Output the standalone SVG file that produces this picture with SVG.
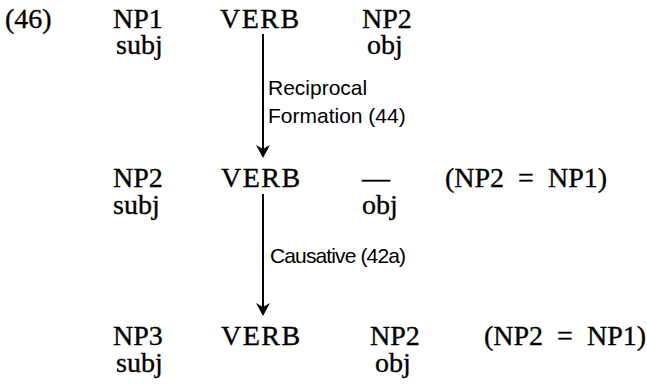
<svg xmlns="http://www.w3.org/2000/svg" width="647" height="385" viewBox="0 0 647 385">
<defs>
<style>
.m{font-family:"Liberation Serif","Times New Roman",serif;font-size:28px;fill:#000;stroke:#000;stroke-width:0.35}
.l{font-family:"Liberation Sans",Arial,sans-serif;font-size:21px;fill:#000}
.c{stroke:#000;stroke-width:2;fill:none}
.h{fill:#000;stroke:none}
.v{letter-spacing:1.5px}
</style>
</defs>
<rect width="647" height="385" fill="#fff"/>
<g id="label46"><text class="m" x="5" y="28">(46)</text></g>
<g id="row1">
<g id="r1-np1"><text class="m" x="113" y="28">NP1</text><text class="m" x="116" y="54">subj</text></g>
<g id="r1-verb"><text class="m v" x="220" y="28">VERB</text></g>
<g id="r1-np2"><text class="m" x="362" y="28">NP2</text><text class="m" x="367" y="54">obj</text></g>
</g>
<g id="row2">
<g id="r2-np2"><text class="m" x="113" y="187">NP2</text><text class="m" x="113" y="214">subj</text></g>
<g id="r2-verb"><text class="m v" x="221" y="187">VERB</text></g>
<g id="r2-gap"><text class="m" x="362" y="187">—</text><text class="m" x="362" y="214">obj</text></g>
<g id="r2-eq"><text class="m" x="445" y="187" xml:space="preserve">(NP2  =  NP1)</text></g>
</g>
<g id="row3">
<g id="r3-np3"><text class="m" x="113" y="345">NP3</text><text class="m" x="116" y="372">subj</text></g>
<g id="r3-verb"><text class="m v" x="221" y="345">VERB</text></g>
<g id="r3-np2"><text class="m" x="370" y="345">NP2</text><text class="m" x="375" y="372">obj</text></g>
<g id="r3-eq"><text class="m" x="484" y="345" xml:space="preserve">(NP2  =  NP1)</text></g>
</g>
<g id="connectors">
<line class="c" x1="263" y1="34" x2="263" y2="150"/>
<path class="h" d="M256,145 L263,149 L270,145 L263,158 Z"/>
<text class="l" x="268" y="95">Reciprocal</text>
<text class="l" x="268" y="123">Formation (44)</text>
<line class="c" x1="263" y1="194" x2="263" y2="308"/>
<path class="h" d="M256,303 L263,307 L270,303 L263,316 Z"/>
<text class="l" x="270" y="263" textLength="136">Causative (42a)</text>
</g>
</svg>
